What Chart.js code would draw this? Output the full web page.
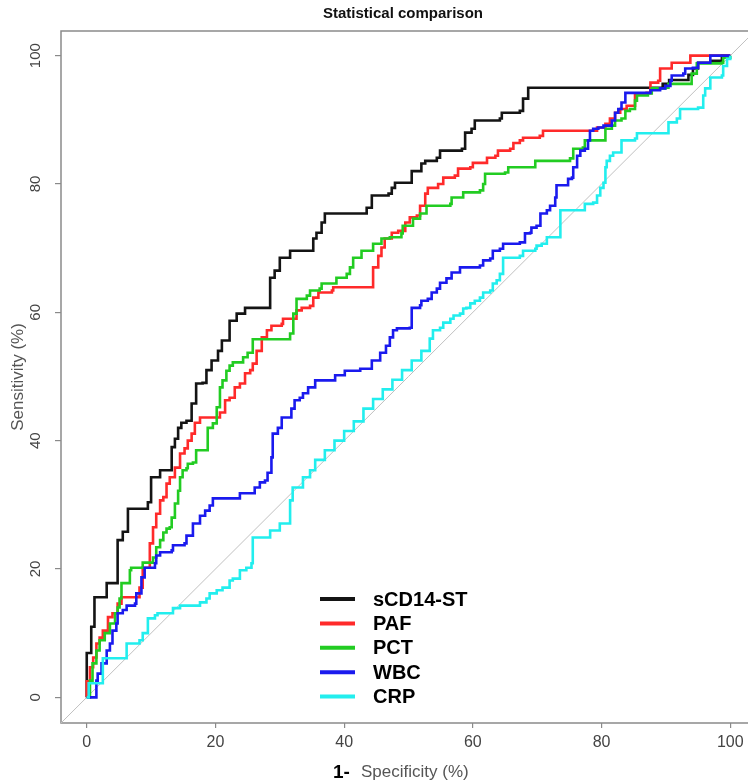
<!DOCTYPE html>
<html><head><meta charset="utf-8">
<script src="https://cdn.jsdelivr.net/npm/chart.js@4/dist/chart.umd.min.js"></script>
<style>
html,body{margin:0;padding:0;background:#fff;overflow:hidden;width:748px;height:780px}
#wrap{width:760px;height:780px}
canvas{display:block}
</style>
</head><body><div id="wrap"><canvas id="c" width="760" height="780"></canvas></div>
<script>
const chartTitle = 'Statistical comparison';
const seriesNames = ['sCD14-ST', 'PAF', 'PCT', 'WBC', 'CRP'];
const seriesColors = ['#141414', '#ff2a2a', '#22cc22', '#1a1aee', '#22eeee'];
const xTicks = [0, 20, 40, 60, 80, 100];
const yTicks = [0, 20, 40, 60, 80, 100];
const diagonalX = [-4, 104];
const diagonalY = [-4, 104];

// 1 - specificity (%) and sensitivity (%) at the corners of each ROC curve
const sCD14X = [0,0,0.7,1.2,2.8,3.1,4.4,4.8,5.6,6.4,9.3,9.5,10,11,11.4,12.6,13.2,13.7,14.2,14.7,15.5,16.3,17,18,18.6,19.4,20.4,21,22.2,23.3,24.6,28.2,28.5,29.2,30,31.6,34.9,35.2,35.7,36.5,37,43,43.5,44.3,46.9,47.4,47.9,49.9,50.5,52,52.6,54.4,54.9,58.3,58.8,59.8,60.3,64.2,64.5,67.3,67.8,68.6,87.6,89.5,90.5,93.5,94.2,95,97,98.7,100];
const sCD14Y = [0,6.9,11,15.6,15.6,17.8,17.8,24.5,25.8,29.4,29.4,30.4,34.3,34.3,35.4,35.4,39,40.3,42,42.8,43.1,45.8,48.9,49,51,52.5,54,55.6,58.7,59.8,60.7,60.7,65.4,66.5,68.5,69.6,69.6,71.5,72.4,74,75.4,75.4,76.3,78.2,78.5,79.4,80.2,80.2,82,83.2,83.6,84.1,85.2,85.5,88,88.6,89.9,90.2,91.1,91.4,93.3,95,95,95.6,96.2,97,98,98.9,99.2,100,100];

const pafX = [0,0,0.5,1,1.5,2,2.5,3.3,4,4.8,5.4,7.9,8.2,8.7,9.5,9.8,10.3,10.8,11.4,11.9,12.4,12.9,13.7,14.5,15.2,15.7,16.3,16.8,17.6,20.4,20.7,21.5,22.2,23,23.8,24.6,25.4,25.8,26.4,27.2,28,28.7,30.3,30.5,31.6,32.6,33.4,34.7,35.2,36,38.1,38.3,44.3,44.5,45.3,45.8,46.3,47.4,48.4,49.5,50.2,51.3,51.8,52.6,53,54.6,55.4,57.2,57.7,59.6,60,62.2,63.5,63.9,65.8,66.3,67.3,67.8,70.4,70.9,78.7,79.3,80.6,81.3,82.1,82.9,83.9,85.2,87,87.6,88.8,89.1,90.7,90.9,93.8,93.8,100];
const pafY = [0,2.5,4.7,6.2,8.4,9.3,10.4,12.5,13.1,14.6,15.6,15.6,17.1,20.2,20.2,24,26.5,28.6,30.7,31.2,33.3,34.3,35.8,38,38.8,40,41.1,42.8,43.6,43.6,44.4,46.3,46.7,48.3,48.9,50.5,51,52,54,56.1,57.2,57.9,58.2,59,59,60.3,60.7,61,62.3,63.1,63.4,63.9,63.9,67,68.8,70.1,71.5,72.4,72.7,74,74.8,75.1,76.6,78.5,79.4,80,81,81.3,82.4,82.6,83.3,84.1,84.4,85.2,85.5,86.4,86.8,87.2,87.5,88.3,88.3,88.8,89.4,90.2,91.1,91.7,92.2,94.1,94.2,95.8,96.1,98,98,98.9,98.9,100,100];

const pctX = [0,0.5,0.9,1.5,2,2.8,3.6,4.4,4.8,5.1,5.4,6.7,6.9,8.5,8.7,10,10.3,10.8,11.4,11.9,12.4,12.9,13.2,13.7,14.2,14.5,14.9,15.5,15.7,16.5,17,18.6,18.8,19.6,20.2,20.7,21.1,21.7,22.2,22.7,23.8,24.3,25,25.8,31.1,31.6,32.1,32.6,34.2,34.7,36.2,36.5,38.3,38.8,40.4,40.9,41.4,42.7,44,44.5,45.8,47.1,48.9,49.1,50.7,51.8,52.8,56.5,56.7,58.3,58.5,61.1,61.6,61.9,65,65.5,69.4,69.7,75.1,75.6,77.1,77.4,80,80.6,81.6,82.1,83.1,83.7,84.4,85.2,85.5,87.2,87.8,89.9,90.4,94,94,94.8,98.7,98.9,100];
const pctY = [0,2.6,5.3,7.3,8.9,10,11.5,13.1,14,15.4,17.8,19.8,20.2,20.2,21,21,21.8,23.4,24.5,25.7,26.3,26.5,28,30.2,32.2,34.3,35.4,35.7,36.4,36.6,38.5,38.5,42,42.7,45.2,48.3,49.4,50.9,51.7,52.2,52.2,53,53.7,55.8,55.8,56.7,59.8,62.1,62.6,63.4,63.7,64.5,64.5,65.4,66,67,68.5,69.6,69.6,70.7,71.5,71.7,72.3,73.5,74.6,75.4,76.6,76.9,77.9,77.9,78.7,79,80,81.6,81.8,82.6,82.6,83.6,84,85.5,85.7,86.8,86.8,88.6,89.1,89.9,90.2,91.4,91.7,93,93.8,94.1,94.9,95,95.6,95.8,97.2,98.8,98.9,99.7,100];

const wbcX = [0,1.2,1.5,1.7,2.3,3.1,3.6,4,4.6,4.8,5.6,6.2,7.5,7.7,8.5,9,10.6,10.8,11.4,13.2,13.4,15.2,15.5,16.5,17.6,18.4,19.1,19.6,23.3,23.8,25.6,26.1,26.9,27.7,28.1,28.7,28.9,29.7,30.3,31.3,31.8,32.3,33.1,33.6,34.4,35.5,38.6,40.1,42.5,44.3,45.6,46.5,47.1,47.6,48.2,50.2,50.5,51.8,52,53,53.6,54.4,54.9,55.9,56.7,58,61.1,61.6,62.7,63.1,64.2,64.7,67.3,68.1,68.9,69.1,69.9,70.5,71.5,72,72.8,73,74.6,74.8,75.4,75.6,76.2,76.7,77.4,77.9,78.2,78.7,79.5,80.3,81.6,82.1,82.6,83.1,83.7,87.6,89.1,89.9,90.7,90.9,92.7,93,94.2,95,96.6,96.9,100];
const wbcY = [0,0,2.6,3.7,5.3,7.3,8.4,10.4,11.5,13.1,13.6,14.3,14.6,16.2,18.7,20.2,20.9,22.1,22.6,22.9,23.7,24,25.2,27.1,28.3,29.1,29.9,31,31,31.8,31.8,32.7,33.5,33.8,35,37.4,41.1,42,43.6,43.6,45,46.3,46.7,47.4,48.3,49.4,50.2,50.9,51.2,52.5,53.7,54.8,56.1,57.2,57.5,57.6,60.7,61.1,61.8,62.1,63.1,63.7,64.6,65.3,66.2,67,67.3,68.1,68.4,69.6,69.9,70.7,70.9,72.3,72.4,73.2,73.5,75.4,75.9,76.6,77.9,79.8,79.8,80.8,81,82.6,84.4,85.2,85.5,86.8,88.3,88.6,88.8,89.1,89.9,91.1,91.7,92.7,94.2,94.6,94.9,95.3,96.1,96.9,97.2,98,98.1,98.9,98.9,100,100];

const crpX = [0,0.3,2.2,2.5,5.4,6.2,8.2,8.7,9.5,10.6,11,12.9,13.4,14.5,17,17.6,18.6,19.1,20.2,21.1,22.2,22.7,23.8,24.8,25.6,25.8,27.9,28.5,30,31,31.6,32,33.6,34.7,35.5,37,38.5,40,41.5,43,44.5,46,47.5,49,50.5,52,53.3,53.8,54.9,55.4,56.5,57,58,58.5,59,59.6,60.3,61.1,61.6,62.7,63.1,63.7,64.2,64.7,67.3,67.8,69.7,69.9,70.7,71.5,73,73.6,76.9,77.4,78.7,79.3,79.8,80.3,80.6,80.8,81.3,81.8,83.1,85.2,85.5,89.9,90.4,91.7,92.2,95,95.8,96.1,96.9,98.7,98.9,99.5,100];
const crpY = [0,2.2,2.2,6.1,6.1,8.4,8.9,10,12.3,12.8,13.1,13.1,13.9,14.3,14.3,14.8,15.4,16.2,16.7,17.1,18.2,18.5,19.8,20.2,20.9,24.9,24.9,26,27.1,27.1,30.7,32.7,34.3,35.4,37,38.5,40,41.5,43,45,46.5,48,49.5,51,52.5,54,55.9,57.2,57.6,58.4,59,59.5,59.8,60.6,60.7,61.4,61.8,62.3,63.1,63.4,64.5,65,66,68.5,68.8,69.6,69.9,70.4,70.7,71.7,71.7,75.9,75.9,76.9,77.1,78.2,79.4,80.2,82.6,83.6,84.4,84.9,86.8,87.1,87.9,87.9,89.6,90.2,91.7,91.9,93.8,94.9,96.6,96.9,98.4,99.5,100];

const seriesX = [sCD14X, pafX, pctX, wbcX, crpX];
const seriesY = [sCD14Y, pafY, pctY, wbcY, crpY];

function pts(xs, ys) { return xs.map((x, i) => ({ x: x, y: ys[i] })); }

const datasets = seriesNames.map((name, i) => ({
  label: name,
  data: pts(seriesX[i], seriesY[i]),
  borderColor: seriesColors[i],
  backgroundColor: seriesColors[i],
  borderWidth: 2.6,
  pointRadius: 0,
  stepped: 'before',
  fill: false,
  order: seriesNames.length - i
}));
datasets.push({
  label: 'diagonal',
  data: pts(diagonalX, diagonalY),
  borderColor: '#c0c0c0',
  borderWidth: 1,
  pointRadius: 0,
  fill: false,
  order: 10
});

const FONT = '"Liberation Sans", Arial, sans-serif';

const decor = {
  id: 'decor',
  beforeDatasetsDraw(chart) {
    const { ctx, chartArea: a } = chart;
    ctx.save();
    ctx.strokeStyle = '#8a8a8a';
    ctx.lineWidth = 1.5;
    ctx.strokeRect(a.left, a.top + 1, a.right - a.left, a.bottom - a.top - 1);
    ctx.restore();
  },
  afterDraw(chart) {
    const { ctx } = chart;
    ctx.save();
    // title
    ctx.fillStyle = '#111';
    ctx.font = 'bold 15px ' + FONT;
    ctx.textAlign = 'center';
    ctx.textBaseline = 'middle';
    ctx.fillText(chartTitle, 403, 14);
    // y axis title
    ctx.save();
    ctx.translate(18, 377);
    ctx.rotate(-Math.PI / 2);
    ctx.fillStyle = '#555';
    ctx.font = '17px ' + FONT;
    ctx.fillText('Sensitivity (%)', 0, 0);
    ctx.restore();
    // x axis title
    ctx.textAlign = 'left';
    ctx.textBaseline = 'alphabetic';
    ctx.fillStyle = '#000';
    ctx.font = 'bold 19px ' + FONT;
    ctx.fillText('1-', 333, 778);
    ctx.fillStyle = '#555';
    ctx.font = '17px ' + FONT;
    ctx.fillText('Specificity (%)', 361, 777);
    // legend
    const lx0 = 320, lx1 = 355, tx = 373, ly0 = 599, dy = 24.4;
    chart.data.datasets.slice(0, seriesNames.length).forEach((ds, i) => {
      const y = ly0 + i * dy;
      ctx.strokeStyle = ds.borderColor;
      ctx.lineWidth = 4;
      ctx.beginPath();
      ctx.moveTo(lx0, y);
      ctx.lineTo(lx1, y);
      ctx.stroke();
      ctx.fillStyle = '#000';
      ctx.font = 'bold 20px ' + FONT;
      ctx.textBaseline = 'middle';
      ctx.fillText(ds.label, tx, y + 1);
    });
    ctx.restore();
  }
};

new Chart(document.getElementById('c'), {
  type: 'line',
  data: { datasets },
  options: {
    responsive: false,
    animation: false,
    events: [],
    layout: { padding: { top: 30, right: 4, bottom: 0, left: 0 } },
    plugins: { legend: { display: false }, title: { display: false }, tooltip: { enabled: false } },
    scales: {
      x: {
        type: 'linear', min: -4, max: 104,
        afterBuildTicks: s => { s.ticks = xTicks.map(v => ({ value: v })); },
        afterFit: s => { s.height = 57; },
        border: { display: false },
        grid: { drawOnChartArea: false, drawTicks: true, tickLength: 5, color: '#8a8a8a', lineWidth: 1.2 },
        ticks: { autoSkip: false, maxRotation: 0, minRotation: 0, padding: 5, color: '#444', font: { family: FONT, size: 16 } }
      },
      y: {
        type: 'linear', min: -4, max: 104,
        afterBuildTicks: s => { s.ticks = yTicks.map(v => ({ value: v })); },
        afterFit: s => { s.width = 61; },
        border: { display: false },
        grid: { drawOnChartArea: false, drawTicks: true, tickLength: 6, color: '#8a8a8a', lineWidth: 1.2 },
        ticks: { autoSkip: false, minRotation: 90, maxRotation: 90, crossAlign: 'center', padding: 7, color: '#444', font: { family: FONT, size: 15 } }
      }
    }
  },
  plugins: [decor]
});
</script>
</body></html>
